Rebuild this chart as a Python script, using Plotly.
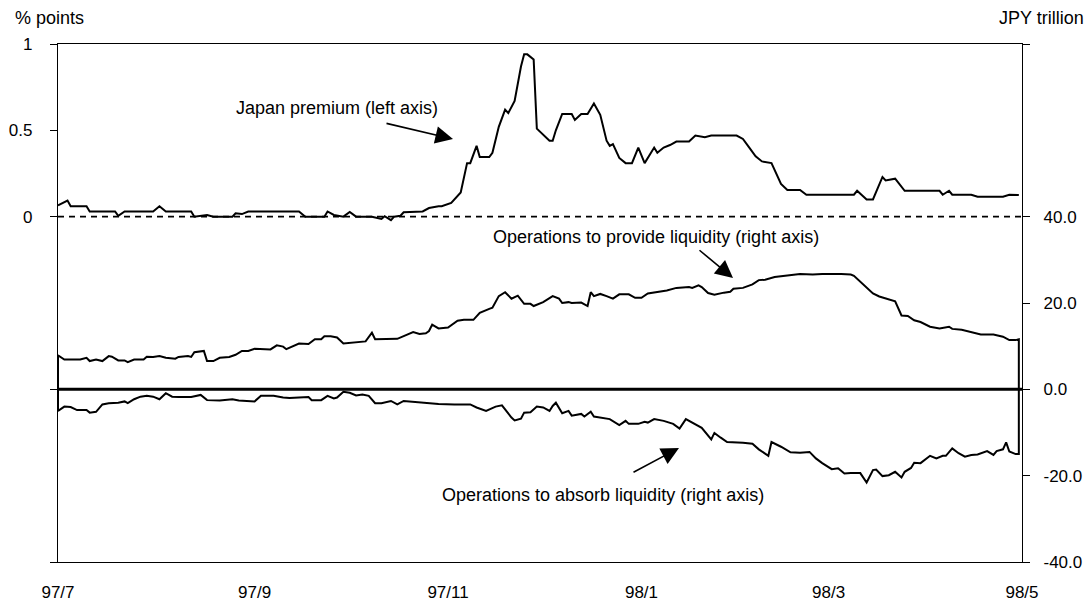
import plotly.graph_objects as go

# ---------------- data ----------------
premium_dates = [
    "1997-07-01", "1997-07-04", "1997-07-05", "1997-07-10", "1997-07-11", "1997-07-19", "1997-07-20",
    "1997-07-22", "1997-07-31", "1997-08-02", "1997-08-04", "1997-08-12", "1997-08-13", "1997-08-17",
    "1997-08-19", "1997-08-25", "1997-08-26", "1997-08-28", "1997-08-30", "1997-09-15", "1997-09-17",
    "1997-09-23", "1997-09-24", "1997-09-26", "1997-09-29", "1997-10-01", "1997-10-03", "1997-10-08",
    "1997-10-11", "1997-10-12", "1997-10-14", "1997-10-15", "1997-10-17", "1997-10-18", "1997-10-24",
    "1997-10-26", "1997-10-29", "1997-10-30", "1997-11-02", "1997-11-05", "1997-11-07", "1997-11-08",
    "1997-11-10", "1997-11-11", "1997-11-14", "1997-11-15", "1997-11-17", "1997-11-19", "1997-11-20",
    "1997-11-22", "1997-11-24", "1997-11-25", "1997-11-26", "1997-11-28", "1997-11-29", "1997-12-03",
    "1997-12-04", "1997-12-05", "1997-12-07", "1997-12-10", "1997-12-11", "1997-12-13", "1997-12-15",
    "1997-12-17", "1997-12-19", "1997-12-21", "1997-12-22", "1997-12-23", "1997-12-25", "1997-12-27",
    "1997-12-29", "1997-12-31", "1998-01-02", "1998-01-03", "1998-01-05", "1998-01-06", "1998-01-08",
    "1998-01-10", "1998-01-12", "1998-01-16", "1998-01-18", "1998-01-21", "1998-01-23", "1998-01-31",
    "1998-02-02", "1998-02-04", "1998-02-06", "1998-02-08", "1998-02-11", "1998-02-14", "1998-02-16",
    "1998-02-20", "1998-02-22", "1998-03-09", "1998-03-10", "1998-03-13", "1998-03-15", "1998-03-18",
    "1998-03-19", "1998-03-22", "1998-03-25", "1998-04-05", "1998-04-06", "1998-04-08", "1998-04-09",
    "1998-04-15", "1998-04-17", "1998-04-25", "1998-04-27", "1998-04-30",
]
premium_values = [
    0.065, 0.093, 0.06, 0.06, 0.03, 0.03, 0.005,
    0.03, 0.03, 0.06, 0.03, 0.03, 0.0, 0.01,
    0.0, 0.0, 0.02, 0.015, 0.03, 0.03, 0.0,
    0.0, 0.03, 0.01, 0.0, 0.027, 0.0, 0.0,
    -0.013, 0.003, -0.02, 0.0, 0.005, 0.025, 0.03,
    0.05, 0.06, 0.06, 0.08, 0.14, 0.31, 0.31,
    0.41, 0.345, 0.345, 0.37, 0.52, 0.62, 0.60,
    0.67, 0.87, 0.94, 0.94, 0.91, 0.51, 0.44,
    0.44, 0.50, 0.595, 0.595, 0.56, 0.595, 0.595,
    0.655, 0.59, 0.44, 0.41, 0.42, 0.34, 0.31,
    0.31, 0.40, 0.31, 0.34, 0.40, 0.37, 0.40,
    0.415, 0.435, 0.435, 0.47, 0.46, 0.47, 0.47,
    0.45, 0.40, 0.35, 0.32, 0.31, 0.19, 0.155,
    0.155, 0.127, 0.127, 0.15, 0.10, 0.10, 0.23,
    0.21, 0.22, 0.15, 0.15, 0.127, 0.15, 0.127,
    0.127, 0.115, 0.115, 0.127, 0.125,
]

provide_dates = [
    "1997-07-01", "1997-07-03", "1997-07-08", "1997-07-10", "1997-07-11", "1997-07-13", "1997-07-15",
    "1997-07-17", "1997-07-18", "1997-07-20", "1997-07-22", "1997-07-23", "1997-07-25", "1997-07-28",
    "1997-07-29", "1997-07-31", "1997-08-02", "1997-08-04", "1997-08-07", "1997-08-08", "1997-08-11",
    "1997-08-12", "1997-08-13", "1997-08-16", "1997-08-17", "1997-08-19", "1997-08-21", "1997-08-24",
    "1997-08-26", "1997-08-28", "1997-08-30", "1997-09-01", "1997-09-05", "1997-09-06", "1997-09-08",
    "1997-09-10", "1997-09-11", "1997-09-13", "1997-09-15", "1997-09-18", "1997-09-20", "1997-09-22",
    "1997-09-23", "1997-09-25", "1997-09-27", "1997-09-29", "1997-10-01", "1997-10-03", "1997-10-06",
    "1997-10-08", "1997-10-09", "1997-10-16", "1997-10-18", "1997-10-21", "1997-10-23", "1997-10-25",
    "1997-10-26", "1997-10-27", "1997-10-29", "1997-11-01", "1997-11-04", "1997-11-06", "1997-11-09",
    "1997-11-11", "1997-11-14", "1997-11-15", "1997-11-17", "1997-11-19", "1997-11-21", "1997-11-23",
    "1997-11-25", "1997-11-27", "1997-11-28", "1997-12-01", "1997-12-04", "1997-12-06", "1997-12-07",
    "1997-12-09", "1997-12-10", "1997-12-13", "1997-12-15", "1997-12-16", "1997-12-17", "1997-12-19",
    "1997-12-21", "1997-12-23", "1997-12-25", "1997-12-28", "1997-12-30", "1998-01-01", "1998-01-03",
    "1998-01-06", "1998-01-09", "1998-01-12", "1998-01-16", "1998-01-17", "1998-01-19", "1998-01-20",
    "1998-01-22", "1998-01-24", "1998-01-25", "1998-01-27", "1998-01-29", "1998-01-30", "1998-02-02",
    "1998-02-05", "1998-02-07", "1998-02-09", "1998-02-12", "1998-02-14", "1998-02-18", "1998-02-20",
    "1998-02-24", "1998-02-27", "1998-03-05", "1998-03-08", "1998-03-09", "1998-03-11", "1998-03-13",
    "1998-03-15", "1998-03-17", "1998-03-20", "1998-03-22", "1998-03-24", "1998-03-26", "1998-03-28",
    "1998-03-30", "1998-04-02", "1998-04-05", "1998-04-08", "1998-04-09", "1998-04-12", "1998-04-15",
    "1998-04-18", "1998-04-22", "1998-04-25", "1998-04-27", "1998-04-29", "1998-04-30",
]
provide_values = [
    7.86, 6.9, 6.9, 7.3, 6.55, 6.9, 6.55,
    7.7, 7.55, 6.7, 6.7, 6.3, 6.9, 6.9,
    7.55, 7.5, 7.7, 7.3, 7.1, 7.5, 7.7,
    7.5, 8.6, 8.9, 6.55, 6.55, 7.3, 7.5,
    8.0, 8.9, 8.9, 9.4, 9.4, 9.25, 10.2,
    9.9, 9.3, 9.9, 10.6, 10.5, 11.6, 11.6,
    12.3, 12.3, 12.0, 10.6, 10.75, 11.0, 11.1,
    13.1, 11.6, 11.7, 12.3, 13.25, 12.8, 13.0,
    13.5, 15.0, 14.1, 14.3, 15.9, 16.1, 16.1,
    17.7, 18.65, 18.9, 21.6, 22.5, 21.0, 21.7,
    19.8, 19.8, 19.3, 20.2, 21.6, 21.0, 20.0,
    20.2, 20.0, 20.1, 19.3, 22.5, 21.6, 22.1,
    21.6, 21.0, 22.0, 22.0, 21.2, 21.2, 22.2,
    22.5, 22.9, 23.5, 23.7, 23.5, 24.1, 23.7,
    22.3, 21.9, 22.1, 22.4, 22.6, 23.3, 23.5,
    24.3, 25.3, 25.4, 26.0, 26.2, 26.6, 26.7,
    26.6, 26.7, 26.7, 26.6, 26.3, 25.0, 23.6,
    22.2, 21.5, 20.8, 20.4, 17.1, 17.0, 16.0,
    15.6, 14.5, 14.1, 14.5, 14.0, 13.8, 13.25,
    12.7, 12.7, 12.2, 11.4, 11.4, 11.6,
]

absorb_dates = [
    "1997-07-01", "1997-07-03", "1997-07-05", "1997-07-07", "1997-07-10", "1997-07-11", "1997-07-13",
    "1997-07-15", "1997-07-17", "1997-07-20", "1997-07-22", "1997-07-23", "1997-07-25", "1997-07-27",
    "1997-07-29", "1997-07-31", "1997-08-02", "1997-08-04", "1997-08-06", "1997-08-08", "1997-08-12",
    "1997-08-15", "1997-08-17", "1997-08-21", "1997-08-24", "1997-08-25", "1997-08-27", "1997-09-01",
    "1997-09-03", "1997-09-07", "1997-09-10", "1997-09-12", "1997-09-15", "1997-09-18", "1997-09-19",
    "1997-09-22", "1997-09-24", "1997-09-26", "1997-09-27", "1997-09-29", "1997-10-01", "1997-10-03",
    "1997-10-05", "1997-10-07", "1997-10-09", "1997-10-11", "1997-10-14", "1997-10-16", "1997-10-18",
    "1997-10-21", "1997-10-24", "1997-10-29", "1997-11-03", "1997-11-08", "1997-11-10", "1997-11-13",
    "1997-11-16", "1997-11-18", "1997-11-21", "1997-11-22", "1997-11-24", "1997-11-25", "1997-11-27",
    "1997-11-29", "1997-12-01", "1997-12-03", "1997-12-04", "1997-12-05", "1997-12-07", "1997-12-09",
    "1997-12-10", "1997-12-13", "1997-12-14", "1997-12-16", "1997-12-17", "1997-12-22", "1997-12-25",
    "1997-12-27", "1997-12-28", "1997-12-31", "1998-01-02", "1998-01-03", "1998-01-05", "1998-01-08",
    "1998-01-11", "1998-01-13", "1998-01-15", "1998-01-17", "1998-01-20", "1998-01-23", "1998-01-24",
    "1998-01-26", "1998-01-28", "1998-02-02", "1998-02-04", "1998-02-05", "1998-02-07", "1998-02-10",
    "1998-02-11", "1998-02-14", "1998-02-17", "1998-02-20", "1998-02-23", "1998-02-25", "1998-02-27",
    "1998-03-02", "1998-03-04", "1998-03-06", "1998-03-08", "1998-03-11", "1998-03-13", "1998-03-15",
    "1998-03-16", "1998-03-18", "1998-03-20", "1998-03-22", "1998-03-24", "1998-03-25", "1998-03-27",
    "1998-03-28", "1998-03-30", "1998-03-31", "1998-04-02", "1998-04-04", "1998-04-06", "1998-04-07",
    "1998-04-09", "1998-04-11", "1998-04-13", "1998-04-15", "1998-04-17", "1998-04-20", "1998-04-22",
    "1998-04-23", "1998-04-25", "1998-04-26", "1998-04-27", "1998-04-29", "1998-04-30",
]
absorb_values = [
    -5.0, -4.0, -4.1, -4.8, -4.8, -5.4, -5.2,
    -3.5, -3.2, -3.1, -2.8, -3.2, -2.3, -1.7,
    -1.5, -1.7, -2.3, -0.9, -1.7, -1.8, -1.8,
    -1.3, -2.5, -2.6, -2.5, -2.3, -2.6, -2.8,
    -1.5, -1.5, -1.9, -2.0, -1.9, -1.8, -2.5,
    -2.5, -1.5, -2.1, -1.9, -0.55, -0.8, -1.4,
    -1.2, -1.5, -3.2, -3.2, -2.7, -3.5, -2.7,
    -2.9, -3.2, -3.4, -3.5, -3.5, -4.2, -5.0,
    -4.0, -3.7, -6.55, -7.2, -6.8, -5.4, -5.3,
    -4.0, -4.2, -5.0, -3.85, -3.1, -5.55, -5.0,
    -6.1, -5.7, -6.3, -5.2, -6.3, -6.9, -8.3,
    -7.3, -8.0, -8.0, -7.5, -7.7, -6.9, -7.3,
    -8.0, -9.1, -6.9, -7.7, -8.9, -11.6, -10.1,
    -11.2, -12.2, -12.4, -12.6, -12.6, -13.9, -15.4,
    -12.2, -13.3, -14.6, -14.7, -14.5, -16.0, -17.1,
    -18.5, -18.3, -19.5, -19.4, -19.4, -21.6, -18.7,
    -18.6, -20.1, -19.9, -19.1, -20.4, -19.1, -18.2,
    -17.0, -17.1, -16.6, -15.4, -16.0, -15.4, -15.4,
    -13.7, -14.8, -15.6, -15.2, -15.1, -14.3, -15.2,
    -14.3, -13.9, -12.3, -14.4, -15.0, -15.0,
]

tick_dates = ["1997-07-01", "1997-09-01", "1997-11-01", "1998-01-01", "1998-03-01", "1998-05-01"]
tick_labels = ["97/7", "97/9", "97/11", "98/1", "98/3", "98/5"]

left_ticks = [-2, -1, 0, 0.5, 1]
left_labels = ["", "", "0", "0.5", "1"]
right_ticks = [-40, -20, 0, 20, 40, 80]
right_labels = ["-40.0", "-20.0", "0.0", "20.0", "40.0", ""]

# ---------------- figure ----------------
FONT = "Liberation Sans, Arial, Helvetica, sans-serif"
W, H = 1092, 608
L, R, T, B = 58, 70, 44, 46
pw, ph = W - L - R, H - T - B


def px(xp):
    return (xp - L) / pw


def py(yp):
    return (H - B - yp) / ph


fig = go.Figure()

line_style = dict(color="black", width=2)

# area-style outlines for operations (edges drop to zero)
fig.add_trace(go.Scatter(
    x=[provide_dates[0]] + provide_dates + [provide_dates[-1]],
    y=[0] + provide_values + [0],
    mode="lines", line=line_style, yaxis="y2", hoverinfo="skip", showlegend=False))
fig.add_trace(go.Scatter(
    x=[absorb_dates[0]] + absorb_dates + [absorb_dates[-1]],
    y=[0] + absorb_values + [0],
    mode="lines", line=line_style, yaxis="y2", hoverinfo="skip", showlegend=False))
fig.add_trace(go.Scatter(
    x=premium_dates, y=premium_values,
    mode="lines", line=line_style, yaxis="y", hoverinfo="skip", showlegend=False))

# zero lines
fig.add_shape(type="line", xref="paper", x0=0, x1=1, yref="y", y0=0, y1=0,
              line=dict(color="black", width=1.6, dash="6px,5px"), layer="below")
fig.add_shape(type="line", xref="paper", x0=0, x1=1, yref="y2", y0=0, y1=0,
              line=dict(color="black", width=3), layer="above")

fig.update_layout(
    width=W, height=H,
    margin=dict(l=L, r=R, t=T, b=B, autoexpand=False),
    paper_bgcolor="white", plot_bgcolor="white",
    font=dict(family=FONT, size=18, color="black"),
    showlegend=False,
    xaxis=dict(
        type="date", range=["1997-07-01", "1998-05-01"],
        tickvals=tick_dates, ticktext=tick_labels, ticks="",
        showgrid=False, zeroline=False, showline=True, linecolor="black", linewidth=1.2,
        mirror=True, tickfont=dict(size=17), ticklabelstandoff=14, automargin=False,
    ),
    yaxis=dict(
        range=[-2, 1], tickvals=left_ticks, ticktext=left_labels,
        ticks="outside", ticklen=7, tickcolor="black", tickwidth=1,
        showgrid=False, zeroline=False, showline=True, linecolor="black", linewidth=1.2,
        tickfont=dict(size=17), ticklabelstandoff=14, automargin=False,
    ),
    yaxis2=dict(
        range=[-40, 80], tickvals=right_ticks, ticktext=right_labels,
        overlaying="y", side="right",
        ticks="outside", ticklen=7, tickcolor="black", tickwidth=1,
        showgrid=False, zeroline=False, showline=True, linecolor="black", linewidth=1.2,
        tickfont=dict(size=17), ticklabelstandoff=10, automargin=False,
    ),
)

annotations = [
    dict(text="% points", x=px(13), y=py(18), xanchor="left", yanchor="middle"),
    dict(text="JPY trillion", x=px(1086), y=py(18), xanchor="right", yanchor="middle"),
    dict(text="Japan premium (left axis)", x=px(337), y=py(108), xanchor="center", yanchor="middle"),
    dict(text="Operations to provide liquidity (right axis)", x=px(656), y=py(237),
         xanchor="center", yanchor="middle"),
    dict(text="Operations to absorb liquidity (right axis)", x=px(603), y=py(495),
         xanchor="center", yanchor="middle"),
]
for a in annotations:
    fig.add_annotation(xref="paper", yref="paper", showarrow=False,
                       font=dict(family=FONT, size=18, color="black"), **a)

arrows = [
    ((453, 139), (385, 123)),
    ((733, 278), (698, 249)),
    ((679, 448), (632, 473)),
]
for (tx, ty), (sx, sy) in arrows:
    fig.add_annotation(xref="paper", yref="paper", x=px(tx), y=py(ty), text="",
                       showarrow=True, arrowhead=2, arrowsize=2.2, arrowwidth=1.6,
                       arrowcolor="black", ax=sx - tx, ay=sy - ty, standoff=0)

fig.write_html("out.html", config={"displayModeBar": False},
               post_script="document.body.style.margin='0';")
